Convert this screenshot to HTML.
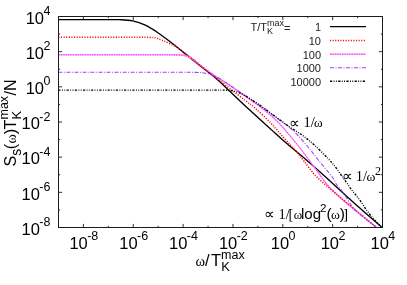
<!DOCTYPE html>
<html><head><meta charset="utf-8"><style>
html,body{margin:0;padding:0;background:#fff;}
body{width:407px;height:285px;overflow:hidden;position:relative;font-family:"Liberation Sans",sans-serif;}
</style></head><body>
<svg width="407" height="285" viewBox="0 0 407 285" style="position:absolute;left:0;top:0">
<rect width="407" height="285" fill="#fff"/>
<defs><clipPath id="c"><rect x="58.50" y="16.50" width="324.00" height="211.00"/></clipPath><filter id="gs" x="0" y="0" width="407" height="285" filterUnits="userSpaceOnUse" color-interpolation-filters="sRGB"><feColorMatrix type="saturate" values="0"/></filter></defs>
<g clip-path="url(#c)" fill="none" stroke-linejoin="round">
<path d="M58.50,19.60 C65.42,19.60 89.75,19.58 100.00,19.60 C110.25,19.62 114.57,19.48 120.00,19.70 C125.43,19.92 128.38,19.98 132.60,20.90 C136.82,21.82 141.08,23.23 145.30,25.20 C149.52,27.17 153.70,29.90 157.90,32.70 C162.10,35.50 166.30,38.77 170.50,42.00 C174.70,45.23 178.02,48.02 183.10,52.10 C188.18,56.18 195.68,62.27 201.00,66.50 C206.32,70.73 211.00,74.13 215.00,77.50 C219.00,80.87 219.17,81.23 225.00,86.70 C230.83,92.17 242.50,103.33 250.00,110.30 C257.50,117.27 264.17,123.22 270.00,128.50 C275.83,133.78 278.83,136.67 285.00,142.00 C291.17,147.33 300.23,154.67 307.00,160.50 C313.77,166.33 317.93,170.08 325.60,177.00 C333.27,183.92 343.60,193.58 353.00,202.00 C362.40,210.42 377.17,223.25 382.00,227.50" stroke="#000" stroke-width="1.35"/>
<clipPath id="cl"><rect x="0" y="0" width="197" height="285"/></clipPath><clipPath id="cr"><rect x="197" y="0" width="300" height="285"/></clipPath>
<g clip-path="url(#cl)">
<path d="M58.50,54.80 C73.75,54.80 130.08,54.78 150.00,54.80 C169.92,54.82 172.22,54.77 178.00,54.90 C183.78,55.03 182.60,55.13 184.70,55.60 C186.80,56.07 188.87,56.83 190.60,57.70 C192.33,58.57 193.37,59.45 195.10,60.80 C196.83,62.15 197.68,63.30 201.00,65.80 C204.32,68.30 210.17,72.48 215.00,75.80 C219.83,79.12 225.00,82.33 230.00,85.70 C235.00,89.07 239.60,92.20 245.00,96.00 C250.40,99.80 257.05,104.30 262.40,108.50 C267.75,112.70 272.68,116.87 277.10,121.20 C281.52,125.53 285.22,130.20 288.90,134.50 C292.58,138.80 295.85,142.75 299.20,147.00 C302.55,151.25 306.20,156.25 309.00,160.00 C311.80,163.75 312.58,164.95 316.00,169.50 C319.42,174.05 324.55,181.80 329.50,187.30 C334.45,192.80 337.78,195.75 345.70,202.50 C353.62,209.25 371.78,223.58 377.00,227.80" stroke="#ffc4ff" stroke-width="1.6"/>
<path d="M58.50,54.80 C73.75,54.80 130.08,54.78 150.00,54.80 C169.92,54.82 172.22,54.77 178.00,54.90 C183.78,55.03 182.60,55.13 184.70,55.60 C186.80,56.07 188.87,56.83 190.60,57.70 C192.33,58.57 193.37,59.45 195.10,60.80 C196.83,62.15 197.68,63.30 201.00,65.80 C204.32,68.30 210.17,72.48 215.00,75.80 C219.83,79.12 225.00,82.33 230.00,85.70 C235.00,89.07 239.60,92.20 245.00,96.00 C250.40,99.80 257.05,104.30 262.40,108.50 C267.75,112.70 272.68,116.87 277.10,121.20 C281.52,125.53 285.22,130.20 288.90,134.50 C292.58,138.80 295.85,142.75 299.20,147.00 C302.55,151.25 306.20,156.25 309.00,160.00 C311.80,163.75 312.58,164.95 316.00,169.50 C319.42,174.05 324.55,181.80 329.50,187.30 C334.45,192.80 337.78,195.75 345.70,202.50 C353.62,209.25 371.78,223.58 377.00,227.80" stroke="#ff50ff" stroke-width="1.6" stroke-dasharray="1.5 0.9"/>
</g>
<g clip-path="url(#cr)">
<path d="M58.50,54.80 C73.75,54.80 130.08,54.78 150.00,54.80 C169.92,54.82 172.22,54.77 178.00,54.90 C183.78,55.03 182.60,55.13 184.70,55.60 C186.80,56.07 188.87,56.83 190.60,57.70 C192.33,58.57 193.37,59.45 195.10,60.80 C196.83,62.15 197.68,63.30 201.00,65.80 C204.32,68.30 210.17,72.48 215.00,75.80 C219.83,79.12 225.00,82.33 230.00,85.70 C235.00,89.07 239.60,92.20 245.00,96.00 C250.40,99.80 257.05,104.30 262.40,108.50 C267.75,112.70 272.68,116.87 277.10,121.20 C281.52,125.53 285.22,130.20 288.90,134.50 C292.58,138.80 295.85,142.75 299.20,147.00 C302.55,151.25 306.20,156.25 309.00,160.00 C311.80,163.75 312.58,164.95 316.00,169.50 C319.42,174.05 324.55,181.80 329.50,187.30 C334.45,192.80 337.78,195.75 345.70,202.50 C353.62,209.25 371.78,223.58 377.00,227.80" stroke="#ff9cff" stroke-width="1.1"/>
<path d="M58.50,54.80 C73.75,54.80 130.08,54.78 150.00,54.80 C169.92,54.82 172.22,54.77 178.00,54.90 C183.78,55.03 182.60,55.13 184.70,55.60 C186.80,56.07 188.87,56.83 190.60,57.70 C192.33,58.57 193.37,59.45 195.10,60.80 C196.83,62.15 197.68,63.30 201.00,65.80 C204.32,68.30 210.17,72.48 215.00,75.80 C219.83,79.12 225.00,82.33 230.00,85.70 C235.00,89.07 239.60,92.20 245.00,96.00 C250.40,99.80 257.05,104.30 262.40,108.50 C267.75,112.70 272.68,116.87 277.10,121.20 C281.52,125.53 285.22,130.20 288.90,134.50 C292.58,138.80 295.85,142.75 299.20,147.00 C302.55,151.25 306.20,156.25 309.00,160.00 C311.80,163.75 312.58,164.95 316.00,169.50 C319.42,174.05 324.55,181.80 329.50,187.30 C334.45,192.80 337.78,195.75 345.70,202.50 C353.62,209.25 371.78,223.58 377.00,227.80" stroke="#ff48ff" stroke-width="1.1" stroke-dasharray="1.6 0.8"/>
</g>
<path d="M58.50,37.20 C68.75,37.20 104.75,37.17 120.00,37.20 C135.25,37.23 144.00,37.27 150.00,37.40 C156.00,37.53 154.00,37.52 156.00,38.00 C158.00,38.48 159.58,39.32 162.00,40.30 C164.42,41.28 167.50,42.37 170.50,43.90 C173.50,45.43 174.92,45.82 180.00,49.50 C185.08,53.18 195.17,61.42 201.00,66.00 C206.83,70.58 210.22,73.27 215.00,77.00 C219.78,80.73 224.70,84.52 229.70,88.40 C234.70,92.28 240.78,97.03 245.00,100.30 C249.22,103.57 250.83,104.35 255.00,108.00 C259.17,111.65 265.83,117.95 270.00,122.20 C274.17,126.45 276.60,129.70 280.00,133.50 C283.40,137.30 287.40,141.67 290.40,145.00 C293.40,148.33 295.68,150.75 298.00,153.50 C300.32,156.25 301.30,157.72 304.30,161.50 C307.30,165.28 311.47,171.48 316.00,176.20 C320.53,180.92 326.50,185.50 331.50,189.80 C336.50,194.10 338.50,195.72 346.00,202.00 C353.50,208.28 371.42,223.25 376.50,227.50" stroke="#ff0000" stroke-width="1.5" stroke-dasharray="1.1 1.5"/>
<path d="M58.50,72.30 C78.75,72.30 157.08,72.28 180.00,72.30 C202.92,72.32 192.00,72.28 196.00,72.40 C200.00,72.52 201.45,72.60 204.00,73.00 C206.55,73.40 209.13,74.10 211.30,74.80 C213.47,75.50 215.05,76.22 217.00,77.20 C218.95,78.18 220.83,79.35 223.00,80.70 C225.17,82.05 226.33,82.85 230.00,85.30 C233.67,87.75 240.00,92.03 245.00,95.40 C250.00,98.77 255.00,101.97 260.00,105.50 C265.00,109.03 270.18,113.00 275.00,116.60 C279.82,120.20 285.15,124.03 288.90,127.10 C292.65,130.17 294.30,131.68 297.50,135.00 C300.70,138.32 304.63,142.83 308.10,147.00 C311.57,151.17 314.28,155.00 318.30,160.00 C322.32,165.00 329.10,172.83 332.20,177.00 C335.30,181.17 335.13,182.50 336.90,185.00 C338.67,187.50 340.45,188.72 342.80,192.00 C345.15,195.28 348.63,201.45 351.00,204.70 C353.37,207.95 354.58,209.15 357.00,211.50 C359.42,213.85 362.17,216.08 365.50,218.80 C368.83,221.52 375.08,226.30 377.00,227.80" stroke="#a040ff" stroke-width="1.1" stroke-dasharray="4 1.5 1 1.5"/>
<path d="M58.50,90.10 C82.08,90.10 172.08,90.08 200.00,90.10 C227.92,90.12 220.67,90.10 226.00,90.20 C231.33,90.30 230.00,90.35 232.00,90.70 C234.00,91.05 235.92,91.52 238.00,92.30 C240.08,93.08 240.93,93.28 244.50,95.40 C248.07,97.52 254.32,101.52 259.40,105.00 C264.48,108.48 270.08,112.73 275.00,116.30 C279.92,119.87 284.28,123.20 288.90,126.40 C293.52,129.60 298.42,132.35 302.70,135.50 C306.98,138.65 310.42,141.50 314.60,145.30 C318.78,149.10 324.40,154.77 327.80,158.30 C331.20,161.83 332.80,163.75 335.00,166.50 C337.20,169.25 339.47,172.68 341.00,174.80 C342.53,176.92 342.47,176.75 344.20,179.20 C345.93,181.65 348.83,186.07 351.40,189.50 C353.97,192.93 357.02,196.28 359.60,199.80 C362.18,203.32 364.50,207.32 366.90,210.60 C369.30,213.88 371.65,216.85 374.00,219.50 C376.35,222.15 379.83,225.33 381.00,226.50" stroke="#000" stroke-width="1.4" stroke-dasharray="2.2 1.4 0.9 1.4 0.9 1.4"/>
</g>
<rect x="58.50" y="16.50" width="324.00" height="211.00" fill="none" stroke="#1c1c1c" stroke-width="1"/>
<path d="M83.42,227.50v-3.60 M83.42,16.50v3.60 M108.35,227.50v-1.60 M108.35,16.50v1.60 M133.27,227.50v-3.60 M133.27,16.50v3.60 M158.19,227.50v-1.60 M158.19,16.50v1.60 M183.12,227.50v-3.60 M183.12,16.50v3.60 M208.04,227.50v-1.60 M208.04,16.50v1.60 M232.96,227.50v-3.60 M232.96,16.50v3.60 M257.88,227.50v-1.60 M257.88,16.50v1.60 M282.81,227.50v-3.60 M282.81,16.50v3.60 M307.73,227.50v-1.60 M307.73,16.50v1.60 M332.65,227.50v-3.60 M332.65,16.50v3.60 M357.58,227.50v-1.60 M357.58,16.50v1.60 M58.50,209.92h1.60 M382.50,209.92h-1.60 M58.50,192.33h3.60 M382.50,192.33h-3.60 M58.50,174.75h1.60 M382.50,174.75h-1.60 M58.50,157.17h3.60 M382.50,157.17h-3.60 M58.50,139.58h1.60 M382.50,139.58h-1.60 M58.50,122.00h3.60 M382.50,122.00h-3.60 M58.50,104.42h1.60 M382.50,104.42h-1.60 M58.50,86.83h3.60 M382.50,86.83h-3.60 M58.50,69.25h1.60 M382.50,69.25h-1.60 M58.50,51.67h3.60 M382.50,51.67h-3.60 M58.50,34.08h1.60 M382.50,34.08h-1.60" stroke="#1c1c1c" stroke-width="0.9" fill="none"/>
<g filter="url(#gs)" fill="#000">
<text x="50.4" y="234.80" font-family="Liberation Sans, sans-serif" font-size="16.5" text-anchor="end">10<tspan font-size="12.5" dy="-8.7" dx="-0.6">-8</tspan></text>
<text x="50.4" y="199.63" font-family="Liberation Sans, sans-serif" font-size="16.5" text-anchor="end">10<tspan font-size="12.5" dy="-8.7" dx="-0.6">-6</tspan></text>
<text x="50.4" y="164.47" font-family="Liberation Sans, sans-serif" font-size="16.5" text-anchor="end">10<tspan font-size="12.5" dy="-8.7" dx="-0.6">-4</tspan></text>
<text x="50.4" y="129.30" font-family="Liberation Sans, sans-serif" font-size="16.5" text-anchor="end">10<tspan font-size="12.5" dy="-8.7" dx="-0.6">-2</tspan></text>
<text x="50.4" y="94.13" font-family="Liberation Sans, sans-serif" font-size="16.5" text-anchor="end">10<tspan font-size="12.5" dy="-8.7" dx="-0.6">0</tspan></text>
<text x="50.4" y="58.97" font-family="Liberation Sans, sans-serif" font-size="16.5" text-anchor="end">10<tspan font-size="12.5" dy="-8.7" dx="-0.6">2</tspan></text>
<text x="50.4" y="23.80" font-family="Liberation Sans, sans-serif" font-size="16.5" text-anchor="end">10<tspan font-size="12.5" dy="-8.7" dx="-0.6">4</tspan></text>
<text x="83.82" y="248.8" font-family="Liberation Sans, sans-serif" font-size="16.5" text-anchor="middle">10<tspan font-size="12.5" dy="-8.7" dx="-0.6">-8</tspan></text>
<text x="133.67" y="248.8" font-family="Liberation Sans, sans-serif" font-size="16.5" text-anchor="middle">10<tspan font-size="12.5" dy="-8.7" dx="-0.6">-6</tspan></text>
<text x="183.52" y="248.8" font-family="Liberation Sans, sans-serif" font-size="16.5" text-anchor="middle">10<tspan font-size="12.5" dy="-8.7" dx="-0.6">-4</tspan></text>
<text x="233.36" y="248.8" font-family="Liberation Sans, sans-serif" font-size="16.5" text-anchor="middle">10<tspan font-size="12.5" dy="-8.7" dx="-0.6">-2</tspan></text>
<text x="283.21" y="248.8" font-family="Liberation Sans, sans-serif" font-size="16.5" text-anchor="middle">10<tspan font-size="12.5" dy="-8.7" dx="-0.6">0</tspan></text>
<text x="333.05" y="248.8" font-family="Liberation Sans, sans-serif" font-size="16.5" text-anchor="middle">10<tspan font-size="12.5" dy="-8.7" dx="-0.6">2</tspan></text>
<text x="382.90" y="248.8" font-family="Liberation Sans, sans-serif" font-size="16.5" text-anchor="middle">10<tspan font-size="12.5" dy="-8.7" dx="-0.6">4</tspan></text>
<text x="195.6" y="266.1" font-family="Liberation Sans, sans-serif" font-size="16.5"><tspan font-family="Liberation Serif, serif" font-size="14.5">ω</tspan><tspan dx="-0.2">/</tspan><tspan dx="1.5">T</tspan><tspan font-size="13" dy="5">K</tspan><tspan font-size="12.5" dy="-12" dx="-8.7">max</tspan></text>
<g transform="translate(16,166.5) rotate(-90)"><text x="0" y="0" font-family="Liberation Sans, sans-serif" font-size="16.2">S<tspan font-size="14" dy="5">s</tspan><tspan dy="-5" dx="-0.5">(</tspan><tspan font-family="Liberation Serif, serif" dx="0.3" font-size="14">ω</tspan><tspan dx="0">)</tspan><tspan dx="-0.5">T</tspan><tspan font-size="13" dy="5">K</tspan><tspan font-size="12.5" dy="-12.7" dx="-8.7">max</tspan><tspan dy="7.7" dx="0.5">/N</tspan></text></g>
<text x="250.5" y="30.7" font-family="Liberation Sans, sans-serif" font-size="11" fill="#222">T/T<tspan font-size="9" dy="3.5">K</tspan><tspan font-size="9" dy="-8.3" dx="-6">max</tspan><tspan dy="5.6">=</tspan></text>
<text x="321" y="31.10" font-family="Liberation Sans, sans-serif" font-size="11" fill="#222" text-anchor="end">1</text>
<text x="321" y="44.90" font-family="Liberation Sans, sans-serif" font-size="11" fill="#222" text-anchor="end">10</text>
<text x="321" y="58.70" font-family="Liberation Sans, sans-serif" font-size="11" fill="#222" text-anchor="end">100</text>
<text x="321" y="72.20" font-family="Liberation Sans, sans-serif" font-size="11" fill="#222" text-anchor="end">1000</text>
<text x="321" y="85.70" font-family="Liberation Sans, sans-serif" font-size="11" fill="#222" text-anchor="end">10000</text>
<text x="289.40" y="127.90" font-family="Liberation Serif, serif" font-size="14.5" >∝</text>
<text x="303.45" y="127.00" font-family="Liberation Serif, serif" font-size="14.5" >1/</text>
<text transform="translate(314.10,127.00) scale(1.050,1)" font-family="Liberation Serif, serif" font-size="12.5">ω</text>
<text x="342.00" y="181.10" font-family="Liberation Serif, serif" font-size="14.5" >∝</text>
<text x="355.75" y="180.60" font-family="Liberation Serif, serif" font-size="14.5" >1/</text>
<text transform="translate(366.50,180.60) scale(1.080,1)" font-family="Liberation Serif, serif" font-size="12.5">ω</text>
<text x="375.00" y="175.40" font-family="Liberation Serif, serif" font-size="12" >2</text>
<text x="264.40" y="219.00" font-family="Liberation Serif, serif" font-size="14.5" >∝</text>
<text x="278.45" y="218.60" font-family="Liberation Serif, serif" font-size="14.5" >1/</text>
<text x="288.50" y="218.60" font-family="Liberation Serif, serif" font-size="14.5" >[</text>
<text transform="translate(293.80,218.60) scale(1.030,1)" font-family="Liberation Serif, serif" font-size="12.5">ω</text>
<text x="301.00" y="218.60" font-family="Liberation Sans, sans-serif" font-size="15" >log</text>
<text x="320.10" y="212.10" font-family="Liberation Sans, sans-serif" font-size="11.5" >2</text>
<text x="326.60" y="218.60" font-family="Liberation Sans, sans-serif" font-size="15.5" >(</text>
<text transform="translate(330.90,218.60) scale(1.080,1)" font-family="Liberation Serif, serif" font-size="12.5">ω</text>
<text x="339.80" y="218.60" font-family="Liberation Sans, sans-serif" font-size="15.5" >)</text>
<text x="343.20" y="218.60" font-family="Liberation Serif, serif" font-size="14.5" >]</text>
</g>
<path d="M330,26.60H366" fill="none" stroke="#000" stroke-width="1.35"/>
<path d="M330,40.40H366" fill="none" stroke="#ff0000" stroke-width="1.5" stroke-dasharray="1.1 1.5"/>
<path d="M330,54.20H366" fill="none" stroke="#ffc4ff" stroke-width="1.6"/>
<path d="M330,54.20H366" fill="none" stroke="#ff50ff" stroke-width="1.6" stroke-dasharray="1.5 0.9"/>
<path d="M330,67.70H366" fill="none" stroke="#a040ff" stroke-width="1.1" stroke-dasharray="4 1.5 1 1.5"/>
<path d="M330,81.20H366" fill="none" stroke="#000" stroke-width="1.4" stroke-dasharray="2.2 1.4 0.9 1.4 0.9 1.4"/>
</svg>
</body></html>
